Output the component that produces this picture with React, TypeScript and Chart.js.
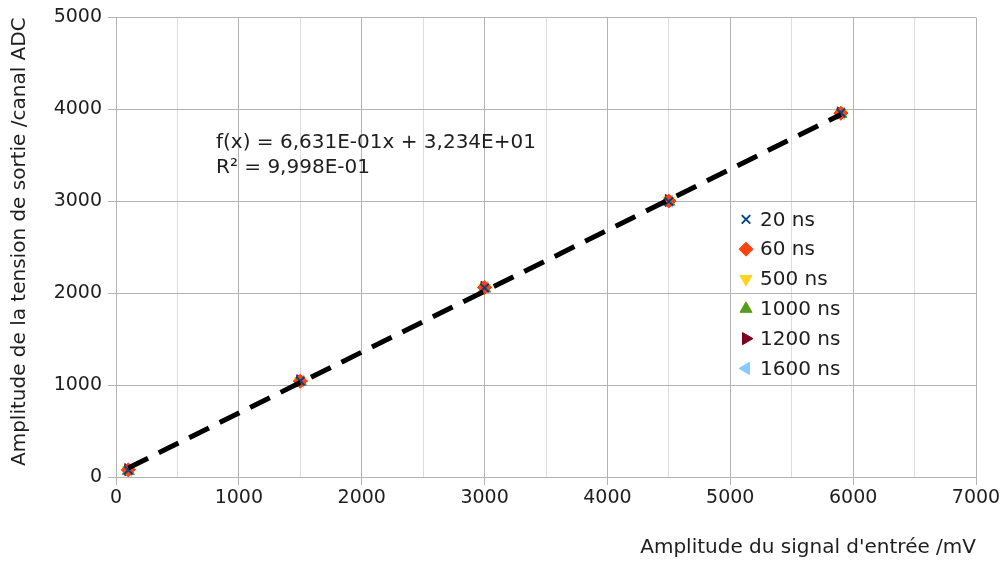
import React, { useEffect, useRef } from 'react';
import { Chart, registerables } from 'chart.js';
import { drawPoint } from 'chart.js/helpers';

Chart.register(...registerables);

// ---- data ----
const xValues = [100, 1500, 3000, 4500, 5900];
const seriesLabels = ['20 ns', '60 ns', '500 ns', '1000 ns', '1200 ns', '1600 ns'];
const y20ns = [76, 1045, 2058, 2998, 3962];
const y60ns = [78, 1042, 2062, 3002, 3958];
const y500ns = [72, 1040, 2055, 3005, 3955];
const y1000ns = [66, 1036, 2050, 2995, 3950];
const y1200ns = [80, 1047, 2064, 3008, 3960];
const y1600ns = [74, 1043, 2060, 3000, 3956];
const trendX = [100, 5900];
const trendY = [98.6, 3944.6];
const equationLines = ['f(x) = 6,631E-01x + 3,234E+01', 'R² = 9,998E-01'];
const xAxisTitle = "Amplitude du signal d'entrée /mV";
const yAxisTitle = 'Amplitude de la tension de sortie /canal ADC';

const seriesColors = ['#004586', '#ff420e', '#ffd320', '#579d1c', '#7e0021', '#83caff'];
const seriesStyles = ['crossRot', 'rectRot', 'triangle', 'triangle', 'triangle', 'triangle'];
const seriesRotations = [0, 0, 180, 0, 90, -90];
const seriesY = [y20ns, y60ns, y500ns, y1000ns, y1200ns, y1600ns];

const FONT = "'DejaVu Sans', sans-serif";
const TEXT = '#1e1e1e';

const overlayPlugin = {
  id: 'overlay',
  afterDraw(chart: any) {
    const ctx = chart.ctx;
    const area = chart.chartArea;
    ctx.save();
    // equation text
    ctx.font = `20px ${FONT}`;
    ctx.fillStyle = TEXT;
    ctx.textBaseline = 'middle';
    ctx.textAlign = 'left';
    equationLines.forEach((t, i) => {
      ctx.fillText(t, area.left + 100, area.top + 125 + i * 25);
    });
    // legend
    const lx = area.left + 630;
    const ly = area.top + 202;
    seriesLabels.forEach((label, i) => {
      const y = ly + i * 29.8;
      const isCross = seriesStyles[i] === 'crossRot';
      ctx.fillStyle = seriesColors[i];
      ctx.strokeStyle = seriesColors[i];
      ctx.lineWidth = isCross ? 2 : 1;
      drawPoint(ctx, {
        pointStyle: seriesStyles[i],
        rotation: seriesRotations[i],
        radius: isCross ? 6 : 7,
        borderWidth: isCross ? 2 : 1,
      } as any, lx, y);
      ctx.fillStyle = TEXT;
      ctx.fillText(label, lx + 14, y + 1);
    });
    ctx.restore();
  },
};

export default function App() {
  const ref = useRef<HTMLCanvasElement>(null);
  useEffect(() => {
    if (!ref.current) return;
    const datasets: any[] = [
      {
        label: 'trend',
        data: trendX.map((x, i) => ({ x, y: trendY[i] })),
        showLine: true,
        borderColor: '#000000',
        borderWidth: 5,
        borderDash: [22, 12],
        pointRadius: 0,
        order: 0,
      },
    ];
    seriesLabels.forEach((label, i) => {
      const isCross = seriesStyles[i] === 'crossRot';
      datasets.push({
        label,
        data: xValues.map((x, j) => ({ x, y: seriesY[i][j] })),
        backgroundColor: seriesColors[i],
        borderColor: seriesColors[i],
        pointStyle: seriesStyles[i],
        pointRotation: seriesRotations[i],
        pointRadius: isCross ? 6 : 7,
        pointBorderWidth: isCross ? 2 : 1,
        showLine: false,
        order: 1,
      });
    });
    const chart = new Chart(ref.current, {
      type: 'scatter',
      data: { datasets },
      plugins: [overlayPlugin],
      options: {
        animation: false,
        responsive: false,
        layout: { padding: { top: 16, right: 28, left: 0, bottom: 0 } },
        plugins: { legend: { display: false }, tooltip: { enabled: false } },
        scales: {
          x: {
            type: 'linear',
            min: 0,
            max: 7000,
            afterFit: (s: any) => { s.height = 84; },
            ticks: {
              stepSize: 500,
              autoSkip: false,
              maxRotation: 0,
              padding: 2,
              color: TEXT,
              font: { family: FONT, size: 19 },
              callback: (v: any) => (Number(v) % 1000 === 0 ? String(v) : ''),
            },
            grid: {
              color: (c: any) => (c.tick && c.tick.value % 1000 === 0 ? '#b3b3b3' : '#dddddd'),
              tickColor: (c: any) => (c.tick && c.tick.value % 1000 === 0 ? '#b3b3b3' : 'rgba(0,0,0,0)'),
              tickLength: 8,
            },
            border: { color: '#b3b3b3' },
            title: {
              display: true,
              text: xAxisTitle,
              align: 'end',
              color: TEXT,
              font: { family: FONT, size: 20 },
              padding: { top: 0, bottom: 1 },
            },
          },
          y: {
            type: 'linear',
            min: 0,
            max: 5000,
            afterFit: (s: any) => { s.width = 116; },
            ticks: {
              stepSize: 1000,
              padding: 6,
              color: TEXT,
              font: { family: FONT, size: 19 },
              callback: (v: any) => String(v),
            },
            grid: { color: '#b3b3b3', tickColor: '#b3b3b3', tickLength: 8 },
            border: { color: '#b3b3b3' },
            title: {
              display: true,
              text: yAxisTitle,
              align: 'end',
              color: TEXT,
              font: { family: FONT, size: 20 },
              padding: { top: 8, bottom: 0 },
            },
          },
        },
      } as any,
    });
    return () => chart.destroy();
  }, []);
  return (
    <div style={{ position: 'absolute', left: 0, top: 0, width: 1004, height: 561, background: '#ffffff' }}>
      <canvas ref={ref} width={1004} height={561} />
    </div>
  );
}
